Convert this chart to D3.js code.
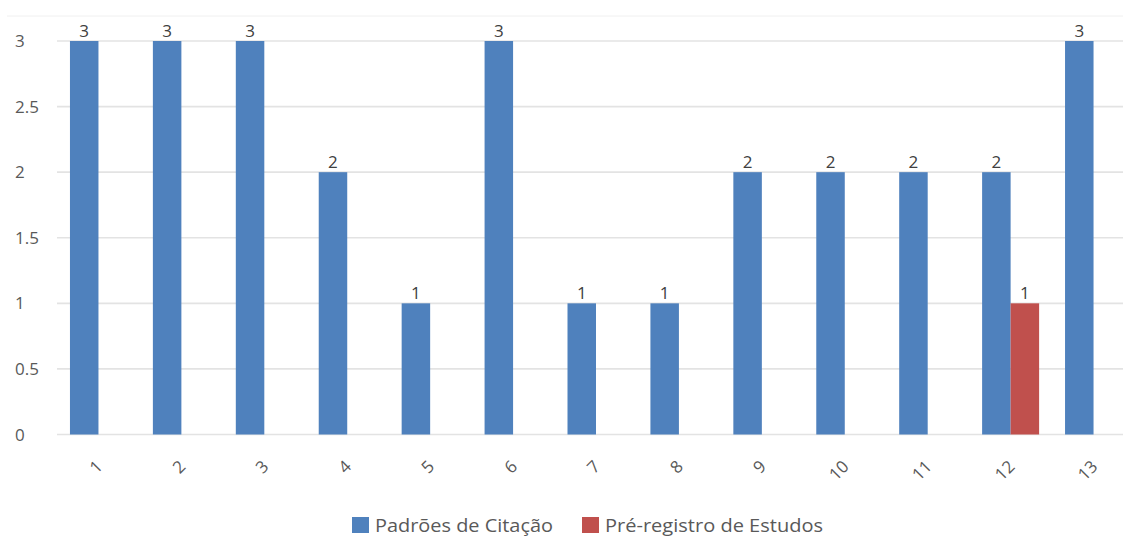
<!DOCTYPE html>
<html><head><meta charset="utf-8">
<script src="https://cdn.jsdelivr.net/npm/d3@7"></script>
<style>body{margin:0;background:#fff}svg{display:block}text{font-family:"Open Sans",sans-serif;fill:#404040}</style>
</head><body><svg id="c" width="1123" height="539"></svg>
<script>
const categories = ["1","2","3","4","5","6","7","8","9","10","11","12","13"];
const seriesNames = ["Padrões de Citação","Pré-registro de Estudos"];
const padroes = [3,3,3,2,1,3,1,1,2,2,2,2,3];
const preRegistro = [null,null,null,null,null,null,null,null,null,null,null,1,null];
const yTicks = [0,0.5,1,1.5,2,2.5,3];
const colors = ["#4F81BD","#C0504D"];

(function(){
const svg = d3.select("#c");
const W = 1123;
const pLeft = 57, pRight = 1135, pTop = 41, pBottom = 434.5;

svg.append("line").attr("x1",7).attr("x2",W).attr("y1",16).attr("y2",16).attr("stroke","#f0f0f0").attr("stroke-width",1);

const y = d3.scaleLinear().domain([0,3]).range([pBottom, pTop]);
const x0 = d3.scaleBand().domain(categories).range([pLeft, pRight]).paddingInner(0.3126).paddingOuter(0.1563);
const x1 = d3.scaleBand().domain([0,1]).range([0, x0.bandwidth()]);

svg.append("g").selectAll("line").data(yTicks).join("line")
  .attr("x1", pLeft).attr("x2", W).attr("y1", d=>y(d)).attr("y2", d=>y(d))
  .attr("stroke","#e3e3e3").attr("stroke-width",1.6);

svg.append("g").selectAll("text").data(yTicks).join("text")
  .attr("x",15).attr("y",d=>y(d)).attr("dy","0.36em")
  .style("font-size","17px").style("fill","#595959")
  .text(d=>d);

const series = [padroes, preRegistro];
series.forEach((vals, si) => {
  const data = categories.map((c,i)=>({c, v: vals[i]})).filter(d=>d.v!=null);
  const g = svg.append("g");
  g.selectAll("rect").data(data).join("rect")
    .attr("x", d=>x0(d.c)+x1(si)).attr("width", x1.bandwidth())
    .attr("y", d=>y(d.v)).attr("height", d=>y(0)-y(d.v))
    .attr("fill", colors[si]);
  g.selectAll("text").data(data).join("text")
    .attr("x", d=>x0(d.c)+x1(si)+x1.bandwidth()/2).attr("y", d=>y(d.v)-4)
    .attr("text-anchor","middle").style("font-size","17px").style("fill","#404040")
    .text(d=>d.v);
});

svg.append("g").selectAll("text").data(categories).join("text")
  .attr("transform", d=>`translate(${x0(d)+x0.bandwidth()/2+1},${pBottom+29}) rotate(-45)`)
  .attr("text-anchor","end").attr("dy","0.35em")
  .style("font-size","17px").style("fill","#595959")
  .text(d=>d);

const leg = svg.append("g");
const legItems = [{name:seriesNames[0],x:352,tx:375,w:178},{name:seriesNames[1],x:582,tx:605,w:218}];
legItems.forEach((it,i)=>{
  leg.append("rect").attr("x",it.x).attr("y",517).attr("width",17).attr("height",16).attr("fill",colors[i]);
  leg.append("text").attr("x",it.tx).attr("y",525).attr("dy","0.36em")
    .attr("textLength",it.w).attr("lengthAdjust","spacingAndGlyphs")
    .style("font-size","19px").style("fill","#595959").text(it.name);
});
})();
</script></body></html>
